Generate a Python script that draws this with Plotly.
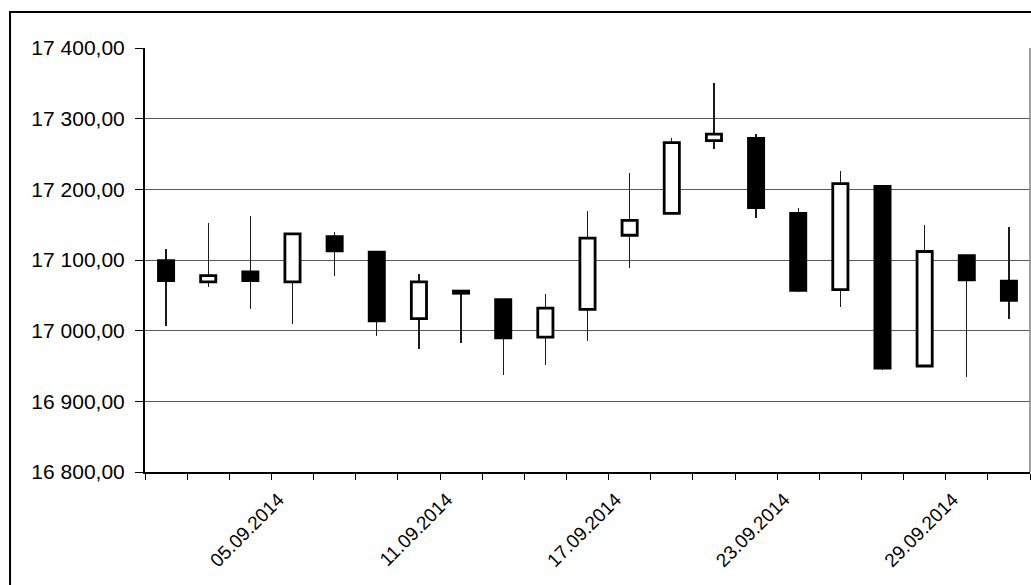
import plotly.graph_objects as go

dates = ["02.09.2014", "03.09.2014", "04.09.2014", "05.09.2014", "08.09.2014",
         "09.09.2014", "10.09.2014", "11.09.2014", "12.09.2014", "15.09.2014",
         "16.09.2014", "17.09.2014", "18.09.2014", "19.09.2014", "22.09.2014",
         "23.09.2014", "24.09.2014", "25.09.2014", "26.09.2014", "29.09.2014",
         "30.09.2014"]
opens = [17099, 17069, 17083, 17069, 17133, 17111, 17017, 17056, 17044, 16991,
         17030, 17135, 17166, 17269, 17272, 17166, 17058, 17204, 16950, 17106, 17070]
highs = [17115, 17152, 17162, 17138, 17140, 17113, 17080, 17056, 17045, 17052,
         17169, 17223, 17272, 17350, 17279, 17173, 17226, 17205, 17149, 17107, 17146]
lows = [17007, 17062, 17030, 17010, 17078, 16993, 16974, 16983, 16937, 16951,
        16985, 17089, 17165, 17257, 17160, 17055, 17034, 16945, 16948, 16934, 17017]
closes = [17071, 17078, 17071, 17137, 17113, 17014, 17069, 17053, 16990, 17032,
          17131, 17156, 17266, 17278, 17174, 17057, 17208, 16947, 17112, 17072, 17043]
label_every = 4
label_start = 3

ticktext = [d if (i - label_start) % label_every == 0 and i >= label_start else ""
            for i, d in enumerate(dates)]

up = [c >= o for o, c in zip(opens, closes)]

fig = go.Figure()
# wicks
fig.add_trace(go.Bar(
    x=dates, y=[h - l for h, l in zip(highs, lows)], base=lows,
    width=0.028, marker=dict(color="#1a1a1a", line=dict(width=0)),
    hoverinfo="skip", showlegend=False))
# bodies
for is_up, fill in ((True, "white"), (False, "black")):
    xs = [d for d, u in zip(dates, up) if u == is_up]
    bases = [min(o, c) for o, c, u in zip(opens, closes, up) if u == is_up]
    hts = [abs(c - o) for o, c, u in zip(opens, closes, up) if u == is_up]
    fig.add_trace(go.Bar(
        x=xs, y=hts, base=bases, width=0.36,
        marker=dict(color=fill, line=dict(color="black", width=2.8)),
        hoverinfo="skip", showlegend=False))

font = "Liberation Sans, Arial, sans-serif"
xrange_ = [-0.5, len(dates) - 0.5]
yrange_ = [16800, 17400]
fig.update_layout(
    width=1031, height=585,
    margin=dict(l=145, r=1, t=48, b=113),
    paper_bgcolor="white", plot_bgcolor="white",
    barmode="overlay", bargap=0,
    separators=", ",
    font=dict(family=font, color="black"),
    xaxis=dict(
        type="category", categoryorder="array", categoryarray=dates,
        range=xrange_,
        tickmode="array", tickvals=dates, ticktext=ticktext,
        tickson="boundaries", ticks="outside", ticklen=6, tickwidth=1,
        tickcolor="black", tickangle=-45, tickfont=dict(size=19, family=font),
        ticklabelshift=-14, ticklabelstandoff=7,
        showgrid=False, showline=True, linecolor="black", linewidth=2,
        zeroline=False, fixedrange=True),
    yaxis=dict(
        range=yrange_, dtick=100, tick0=16800,
        tickformat=",.2f", ticks="outside", ticklen=8, tickwidth=1,
        tickcolor="black", tickfont=dict(size=21, family=font),
        ticklabelstandoff=6,
        showgrid=True, gridcolor="#5a5a5a", gridwidth=1,
        showline=True, linecolor="black", linewidth=2,
        zeroline=False, fixedrange=True),
    # inner halves of the crossing tick marks
    xaxis2=dict(
        overlaying="x", anchor="y2", side="bottom", type="linear",
        range=xrange_, tickmode="linear", tick0=-0.5, dtick=1,
        ticks="inside", ticklen=4, tickwidth=1, tickcolor="black",
        showticklabels=False, showgrid=False, showline=False,
        zeroline=False, fixedrange=True),
    yaxis2=dict(
        overlaying="y", anchor="x2", side="left",
        range=yrange_, dtick=100, tick0=16800,
        ticks="inside", ticklen=7, tickwidth=1, tickcolor="black",
        showticklabels=False, showgrid=False, showline=False,
        zeroline=False, fixedrange=True),
    shapes=[
        dict(type="line", xref="paper", yref="paper", x0=1, x1=1, y0=0, y1=1,
             line=dict(color="#808080", width=1.5)),
        dict(type="rect", xref="paper", yref="paper",
             x0=-0.1525, x1=1.2, y0=-0.5, y1=1.085,
             line=dict(color="black", width=2), fillcolor="rgba(0,0,0,0)"),
    ],
)

fig.write_html(
    "out.html",
    config={"displayModeBar": False, "staticPlot": True},
    post_script="document.body.style.margin='0';document.body.style.overflow='hidden';",
)
